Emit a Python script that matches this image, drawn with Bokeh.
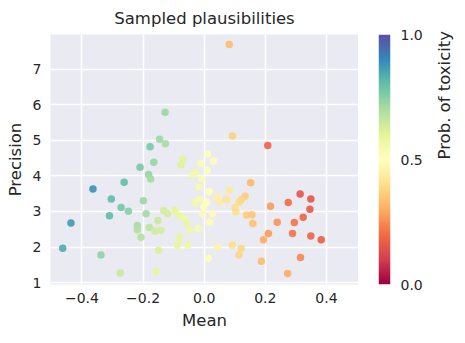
import numpy as np
from bokeh.plotting import figure
from bokeh.layouts import row
from bokeh.models import (ColumnDataSource, LinearColorMapper, FixedTicker,
                          PrintfTickFormatter, CustomJSTickFormatter, Title, Range1d)
from bokeh.embed import file_html
from bokeh.resources import INLINE

# ---- data ----
mean = [-0.128, -0.146, -0.127, -0.177, -0.070, -0.076, -0.165, -0.210, -0.011, -0.182,
        -0.175, -0.039, -0.028, -0.008, -0.017, -0.364, -0.262, -0.304, -0.199, -0.030,
        -0.016, -0.272, -0.248, -0.310, -0.190, -0.133, -0.120, -0.095, -0.082, -0.065,
        -0.057, -0.046, -0.019, -0.005, -0.152, -0.219, -0.219, -0.180, -0.161, -0.142,
        -0.207, -0.436, -0.463, -0.338, -0.149, -0.081, -0.088, -0.053, -0.275, -0.157,
        0.014, 0.011, 0.030, 0.010, 0.016, 0.082, 0.152, 0.134, 0.122, 0.115,
        0.073, 0.043, 0.050, 0.008, -0.001, 0.027, 0.019, 0.101, 0.104, 0.139,
        0.156, 0.159, 0.217, 0.239, 0.210, 0.194, 0.275, 0.314, 0.349, 0.346,
        0.324, 0.295, 0.289, 0.349, 0.383, 0.315, 0.273, 0.187, 0.114, 0.121,
        0.092, 0.043, 0.082, 0.093, 0.208]
precision = [5.79, 5.03, 4.90, 4.82, 4.47, 4.31, 4.38, 4.24, 4.35, 4.04,
             3.91, 4.04, 4.10, 3.91, 3.69, 3.63, 3.82, 3.35, 3.30, 3.24,
             3.34, 3.11, 3.01, 2.88, 2.94, 3.03, 2.94, 3.03, 2.89, 2.82,
             2.68, 2.47, 2.53, 2.94, 2.75, 2.61, 2.49, 2.55, 2.45, 2.47,
             2.28, 2.68, 1.97, 1.78, 1.91, 2.26, 2.06, 2.05, 1.27, 1.32,
             1.68, 4.62, 4.42, 4.16, 3.56, 3.60, 3.81, 3.43, 3.34, 3.27,
             3.34, 3.41, 3.27, 3.26, 3.13, 2.94, 2.70, 3.11, 2.99, 2.90,
             2.91, 2.66, 3.15, 2.70, 2.38, 2.21, 3.25, 3.49, 3.35, 3.06,
             2.84, 2.69, 2.38, 2.31, 2.21, 1.71, 1.26, 1.60, 1.78, 1.96,
             2.06, 2.00, 7.69, 5.12, 4.85]
prob_toxic = [0.72, 0.72, 0.70, 0.77, 0.60, 0.61, 0.73, 0.77, 0.53, 0.73,
              0.71, 0.56, 0.55, 0.53, 0.54, 0.88, 0.81, 0.81, 0.72, 0.55,
              0.54, 0.78, 0.75, 0.81, 0.71, 0.63, 0.63, 0.60, 0.58, 0.57,
              0.58, 0.57, 0.54, 0.52, 0.65, 0.70, 0.69, 0.67, 0.64, 0.63,
              0.68, 0.87, 0.84, 0.74, 0.62, 0.59, 0.59, 0.57, 0.65, 0.59,
              0.51, 0.51, 0.49, 0.51, 0.50, 0.43, 0.32, 0.36, 0.38, 0.39,
              0.42, 0.45, 0.44, 0.50, 0.51, 0.48, 0.49, 0.40, 0.40, 0.36,
              0.35, 0.34, 0.27, 0.26, 0.27, 0.30, 0.20, 0.15, 0.15, 0.16,
              0.18, 0.21, 0.21, 0.18, 0.17, 0.24, 0.30, 0.33, 0.38, 0.38,
              0.40, 0.46, 0.33, 0.37, 0.18]

x_ticks = [-0.4, -0.2, 0.0, 0.2, 0.4]
y_ticks = [1, 2, 3, 4, 5, 6, 7]
cbar_ticks = [0.0, 0.5, 1.0]

# ---- Spectral colormap (0 = red, 1 = purple) ----
anchors = ["#9e0142", "#d53e4f", "#f46d43", "#fdae61", "#fee08b", "#ffffbf",
           "#e6f598", "#abdda4", "#66c2a5", "#3288bd", "#5e4fa2"]
rgb = np.array([[int(c[i:i + 2], 16) for i in (1, 3, 5)] for c in anchors], dtype=float)
pos = np.linspace(0, 1, len(anchors))
t = np.linspace(0, 1, 256)
palette = ["#%02x%02x%02x" % tuple(int(round(np.interp(v, pos, rgb[:, k]))) for k in range(3)) for v in t]

mapper = LinearColorMapper(palette=palette, low=0, high=1)

TXT = "#262626"
FONT = "DejaVu Sans"
FH = 250
TITLE_STANDOFF = 13


def style_axis(ax, standoff, label_standoff):
    ax.axis_line_color = None
    ax.major_tick_line_color = None
    ax.minor_tick_line_color = None
    ax.major_tick_out = 0
    ax.major_tick_in = 0
    ax.minor_tick_out = 0
    ax.minor_tick_in = 0
    ax.major_label_text_font = FONT
    ax.major_label_text_font_size = "14px"
    ax.major_label_text_color = TXT
    ax.axis_label_text_font = FONT
    ax.axis_label_text_font_size = "16.5px"
    ax.axis_label_text_font_style = "normal"
    ax.axis_label_text_color = TXT
    ax.major_label_standoff = standoff
    ax.axis_label_standoff = label_standoff


# ---- main scatter ----
p = figure(frame_width=308, frame_height=FH, output_backend="svg", toolbar_location=None,
           x_range=Range1d(-0.503, 0.505), y_range=Range1d(0.95, 7.97),
           min_border_left=50, min_border_right=0, min_border_top=0, min_border_bottom=0)
p.title = None
p.add_layout(Title(text="Sampled plausibilities", align="center", text_font=FONT,
                   text_font_size="16.5px", text_font_style="normal", text_color=TXT,
                   standoff=TITLE_STANDOFF), "above")

p.background_fill_color = "#eaeaf2"
p.border_fill_color = "white"
p.outline_line_color = None

src = ColumnDataSource(dict(x=mean, y=precision, prob=prob_toxic))
p.scatter("x", "y", source=src, size=7.5, line_color=None,
          fill_color={"field": "prob", "transform": mapper}, fill_alpha=0.9)

style_axis(p.xaxis[0], 8, 5)
style_axis(p.yaxis[0], 9, 5)
p.xaxis.axis_label = "Mean"
p.yaxis.axis_label = "Precision"
p.xaxis.ticker = FixedTicker(ticks=x_ticks)
p.yaxis.ticker = FixedTicker(ticks=y_ticks)
p.xaxis.formatter = CustomJSTickFormatter(
    code="if (Math.abs(tick) < 1e-9) return '0.0'; var s = tick.toFixed(1); return s.replace('-', '\u2212');")

p.xgrid.ticker = FixedTicker(ticks=x_ticks)
p.ygrid.ticker = FixedTicker(ticks=y_ticks)
p.grid.grid_line_color = "white"
p.grid.grid_line_width = 1.5

# ---- colour bar as its own small figure ----
cb = figure(frame_width=12, frame_height=FH, output_backend="svg", toolbar_location=None,
            x_range=Range1d(0, 1), y_range=Range1d(0, 1), y_axis_location="right",
            min_border_left=20, min_border_right=0, min_border_top=0, min_border_bottom=20)
cb.title = None
cb.add_layout(Title(text=" ", text_font=FONT, text_font_size="16.5px",
                    standoff=TITLE_STANDOFF), "above")
cb.outline_line_color = None
cb.border_fill_color = "white"
cb.grid.visible = False
cb.xaxis.visible = False
grad = np.linspace(0, 1, 256).reshape(256, 1)
cb.image(image=[grad], x=0, y=0, dw=1, dh=1, color_mapper=mapper)
style_axis(cb.yaxis[0], 10, 19)
cb.yaxis.ticker = FixedTicker(ticks=cbar_ticks)
cb.yaxis.formatter = PrintfTickFormatter(format="%.1f")
cb.yaxis.axis_label = "Prob. of toxicity"
cb.yaxis.axis_label_orientation = np.pi / 2

layout = row(p, cb, spacing=0)
open("out.html", "w").write(file_html(layout, INLINE))
